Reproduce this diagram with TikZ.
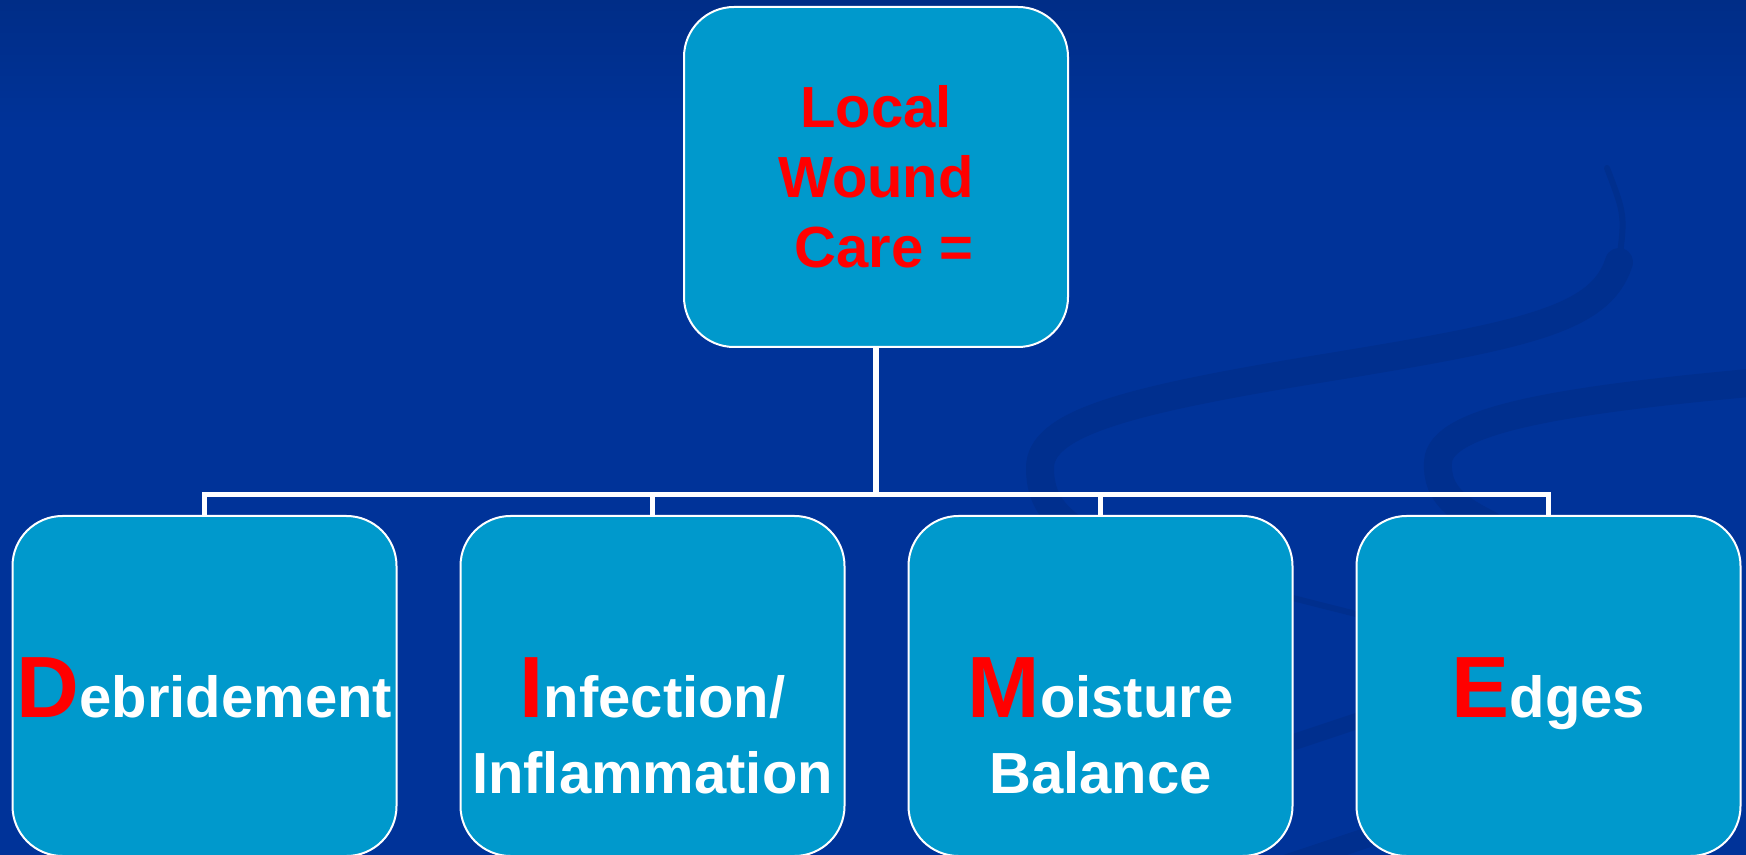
\documentclass[tikz,border=0pt]{standalone}
\usepackage{fontspec}
\setmainfont{Liberation Sans}
\usetikzlibrary{positioning,calc}
\definecolor{slidebg}{HTML}{003399}
\definecolor{slidetop}{HTML}{002D87}
\definecolor{swoosh}{HTML}{002F8E}
\definecolor{boxfill}{HTML}{0099CC}
\definecolor{capred}{HTML}{FF0000}
\newcommand{\firstletter}[1]{{\color{capred}\fontsize{43.5}{37.75}\selectfont#1}}
\tikzset{
  carebox/.style={rectangle,rounded corners=25pt,draw=white,line width=1pt,fill=boxfill,minimum width=192pt,minimum height=170pt,inner sep=0pt},
  caretext/.style={anchor=base,align=center,text=white,font=\bfseries\fontsize{29}{37.75}\selectfont,inner sep=0pt},
  link/.style={draw=white,line width=2.8pt},
  band/.style={draw=swoosh,line cap=round}
}

\begin{document}
\begin{tikzpicture}[x=0.5pt,y=-0.5pt]
  % background
  \fill[slidebg] (0,0) rectangle (1746,855);
  \shade[top color=slidetop,bottom color=slidebg] (0,0) rectangle (1746,130);
  \useasboundingbox (0,0) rectangle (1746,855);

  % faint swooshes
  \draw[band,line width=3pt] (1607,168) .. controls (1625,215) .. (1619,262);
  \draw[band,line width=14pt] (1619,262) .. controls (1600,322) and (1520,336) .. (1300,372) .. controls (1120,402) and (1040,425) .. (1040,468) .. controls (1040,500) and (1055,515) .. (1075,530);
  \draw[band,line width=3pt] (1075,530) .. controls (1200,575) .. (1420,630);
  \draw[band,line width=14pt] (1760,382) .. controls (1560,400) and (1440,420) .. (1438,462) .. controls (1436,495) and (1460,510) .. (1490,525);
  \draw[band,line width=8pt] (1150,790) -- (1450,690);
  \draw[band,line width=10pt] (1150,910) -- (1450,810);

  % boxes
  \node[carebox,align=center,text=capred,font=\bfseries\fontsize{29}{35}\selectfont] (care) at (876,177) {Local\\Wound\\\hspace*{8pt}Care =};
  \node[carebox] (debr) at (204.5,686) {};
  \node[carebox,right=31pt of debr] (infl) {};
  \node[carebox,right=31pt of infl] (moist) {};
  \node[carebox,right=31pt of moist] (edge) {};

  % base of the last line
  \node[caretext] (debr-txt) at ($(debr.center)+(0,31.5)$) {\firstletter{D}ebridement};
  \node[caretext] (infl-txt) at ($(infl.center)+(0,107)$) {\firstletter{I}nfection/\\Inflammation};
  \node[caretext] (moist-txt) at ($(moist.center)+(0,107)$) {\firstletter{M}oisture\\Balance};
  \node[caretext] (edge-txt) at ($(edge.center)+(0,31.5)$) {\firstletter{E}dges};

  % connectors
  \coordinate (bus) at (876,494.5);
  \draw[link] (care) -- (bus);
  \foreach \kid in {debr,infl,moist,edge}
    \draw[link] (bus) -| (\kid);
\end{tikzpicture}
\end{document}
